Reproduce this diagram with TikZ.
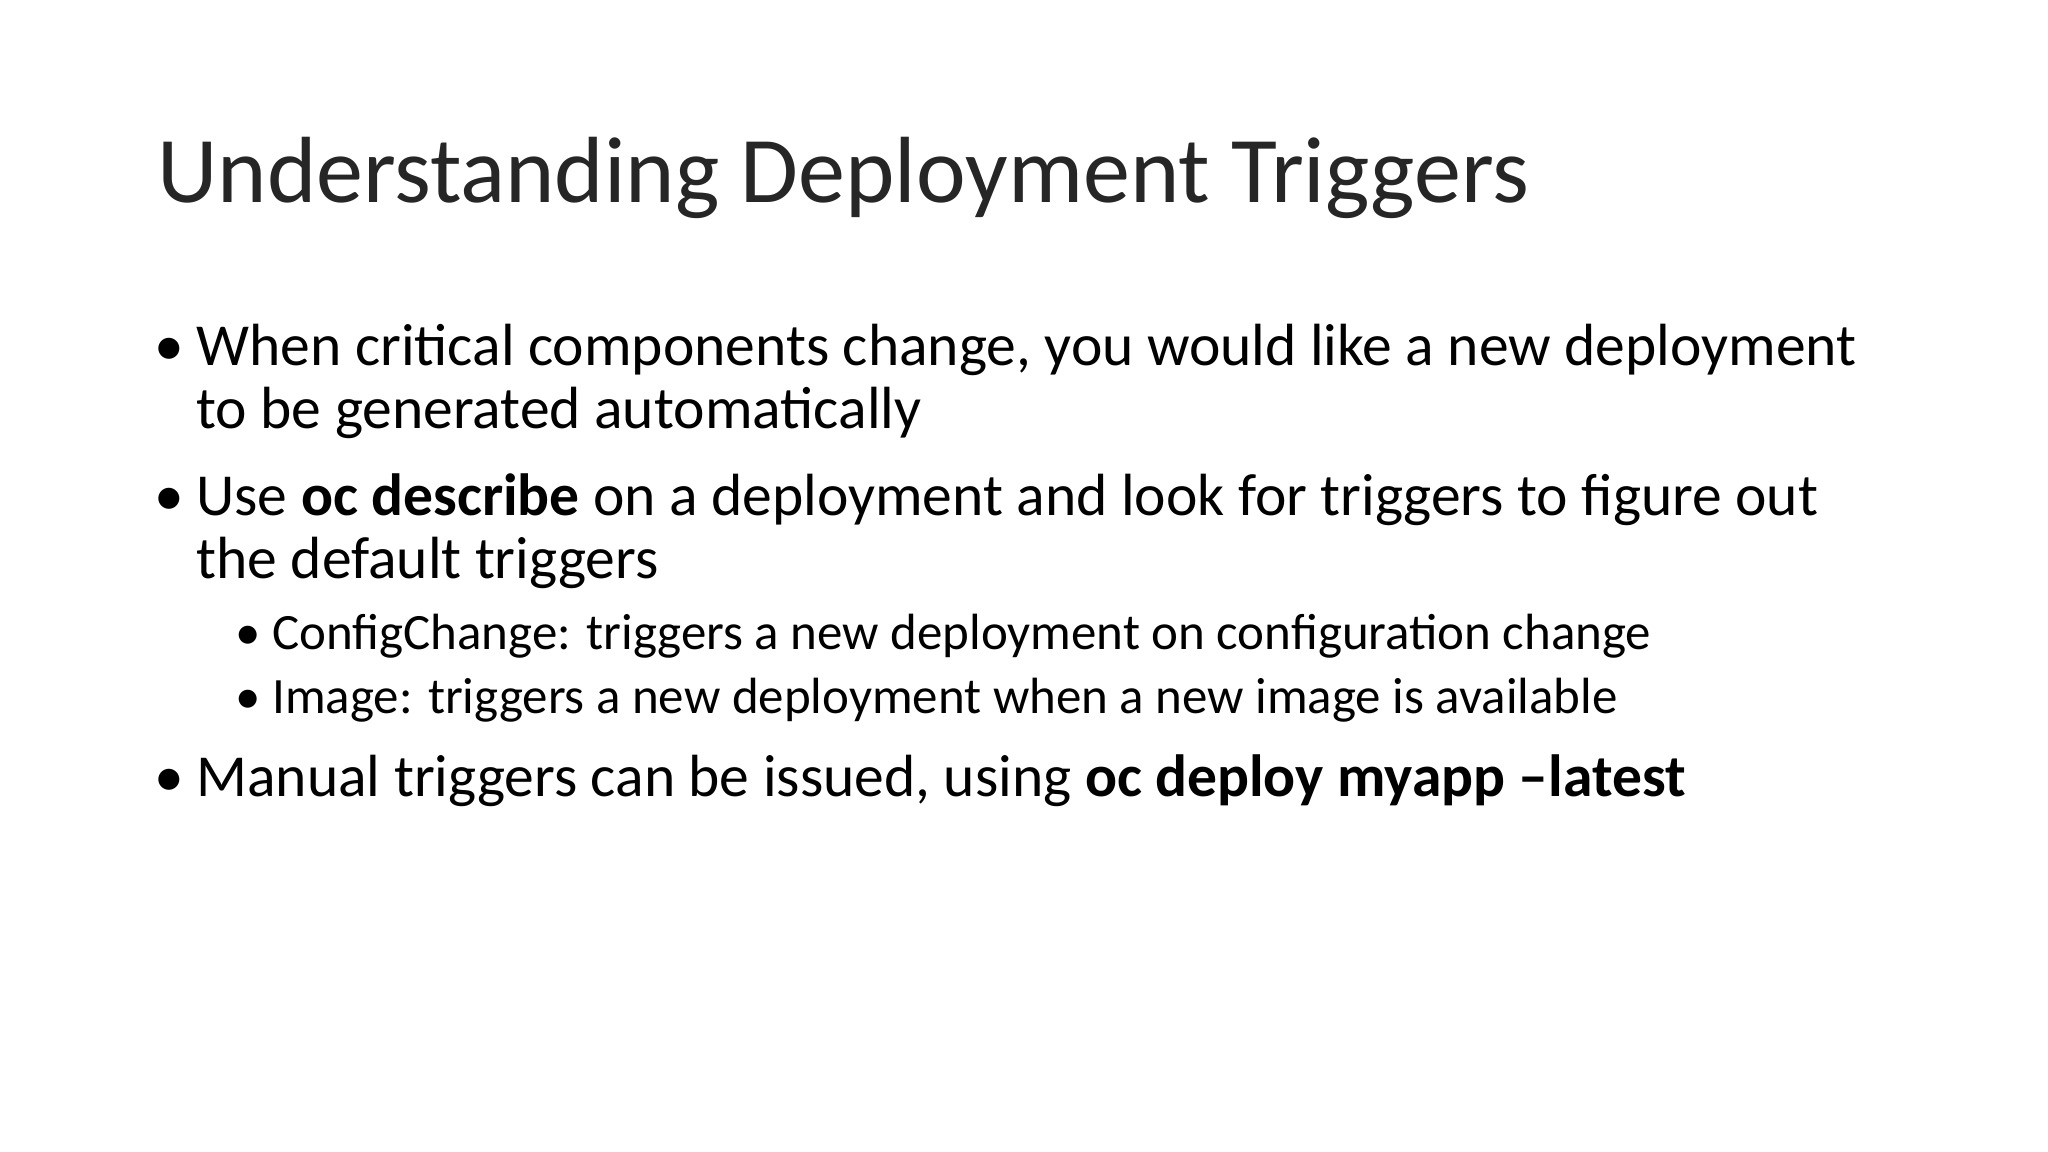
\documentclass[tikz,border=0pt]{standalone}
\usepackage{fontspec}
\setmainfont{Carlito}
\begin{document}
\begin{tikzpicture}[x=0.5pt,y=-0.5pt,
  title/.style={anchor=base west,inner sep=0pt,font=\fontsize{36}{40}\selectfont,text=black!85},
  body/.style={anchor=base west,inner sep=0pt,font=\fontsize{22.8}{26}\selectfont},
  sub/.style={anchor=base west,inner sep=0pt,font=\fontsize{19.5}{22}\selectfont}]
\useasboundingbox[fill=white] (0,0) rectangle (1568,882);
\node[title] (t) at (120,155) {Understanding Deployment Triggers};
\node[body] (b1) at (118,280) {•};
\node[body] (l1) at (150,280) {When critical components change, you would like a new deployment};
\node[body] (l1b) at (150,328) {to be generated automatically};
\node[body] (b2) at (118,395) {•};
\node[body] (l2) at (150,395) {Use \textbf{oc describe} on a deployment and look for triggers to figure out};
\node[body] (l2b) at (150,443) {the default triggers};
\node[sub] (b3) at (180,497) {•};
\node[sub] (l3) at (208,497) {ConfigChange: triggers a new deployment on configuration change};
\node[sub] (b4) at (180,546) {•};
\node[sub] (l4) at (208,546) {Image: triggers a new deployment when a new image is available};
\node[body] (b5) at (118,610) {•};
\node[body] (l5) at (150,610) {Manual triggers can be issued, using \textbf{oc deploy myapp –latest}};
\end{tikzpicture}
\end{document}
